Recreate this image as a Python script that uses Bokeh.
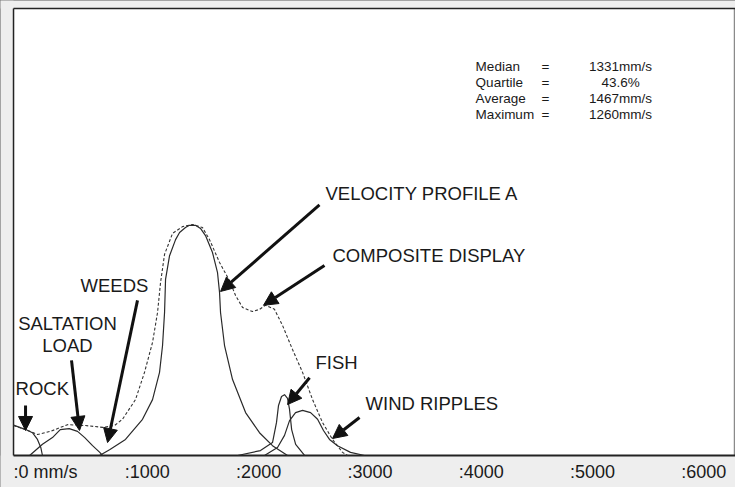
from bokeh.plotting import figure
from bokeh.models import Range1d, Arrow, NormalHead, ColumnDataSource, BoxAnnotation
from bokeh.core.properties import value
from bokeh.embed import file_html
from bokeh.resources import INLINE

FONT = "Liberation Sans"

# ---- data (velocity in mm/s, relative amplitude in %) ----
rock_x = [0, 110, 170, 215, 245, 260]
rock_y = [6.8, 5.8, 5.1, 3.6, 1.8, 0]

salt_x = [145, 260, 350, 420, 500, 575, 640, 710, 775, 800]
salt_y = [0, 2.5, 4.0, 5.8, 6.0, 5.4, 4.0, 2.2, 0.7, 0]

profile_x = [773, 863, 1006, 1159, 1249, 1312, 1339, 1357, 1366, 1402, 1456, 1492, 1545,
             1581, 1635, 1680, 1725, 1788, 1833, 1851, 1860, 1896, 1968, 2085, 2210, 2327, 2462]
profile_y = [0, 1.3, 3.6, 8.1, 12.5, 18.6, 24.6, 32.0, 39.4, 44.7, 48.3, 49.9, 51.0,
             51.5, 51.5, 50.8, 49.2, 45.4, 40.9, 36.5, 32.0, 24.6, 17.0, 9.6, 5.1, 2.2, 0]

fish_x = [2013, 2219, 2327, 2363, 2381, 2408, 2435, 2462, 2480, 2499, 2535, 2615]
fish_y = [0, 1.1, 2.9, 7.4, 11.2, 13.2, 13.6, 12.8, 10.3, 5.8, 2.5, 0]

wind_x = [2255, 2372, 2435, 2480, 2534, 2597, 2669, 2732, 2785, 2839, 2911, 3028, 3154]
wind_y = [0, 1.8, 4.5, 7.8, 9.6, 10.1, 9.6, 8.1, 5.6, 3.6, 2.2, 0.7, 0]

comp_x = [0, 108, 216, 332, 485, 647, 800, 907, 979, 1096, 1177, 1249, 1294, 1321, 1357,
          1429, 1518, 1608, 1698, 1761, 1851, 1941, 1995, 2058, 2147, 2210, 2264, 2345,
          2417, 2507, 2597, 2687, 2776, 2866, 2956, 3001]
comp_y = [6.7, 5.8, 4.7, 5.4, 6.9, 6.7, 6.3, 6.7, 8.1, 12.5, 18.6, 25.3, 32.0, 38.7, 45.0,
          49.7, 51.2, 51.7, 51.0, 48.3, 43.2, 39.1, 35.8, 33.1, 32.2, 32.7, 33.6, 32.7,
          29.1, 23.7, 18.6, 12.5, 7.4, 3.6, 0.7, 0]

tick_values = [0, 1000, 2000, 3000, 4000, 5000, 6000]
tick_labels = [":0 mm/s", ":1000", ":2000", ":3000", ":4000", ":5000", ":6000"]
tick_label_y = -3.8

# annotation labels: text, x, y, align
label_text = ["VELOCITY PROFILE A", "COMPOSITE DISPLAY", "WEEDS", "SALTATION", "LOAD",
              "ROCK", "FISH", "WIND RIPPLES"]
label_x = [2803, 2866, 602, 485, 485, 18, 2713, 3163]
label_y = [58.6, 44.7, 38.0, 29.5, 24.6, 15.0, 20.8, 11.6]
label_align = ["left", "left", "left", "center", "center", "left", "left", "left"]

# arrows: start -> tip
arrow_x0 = [2749, 2794, 1114, 521, 108, 2660, 3109]
arrow_y0 = [56.1, 42.5, 34.7, 21.3, 11.2, 17.4, 8.5]
arrow_x1 = [1860, 2246, 845, 593, 108, 2462, 2866]
arrow_y1 = [36.7, 33.6, 2.9, 5.6, 5.6, 11.4, 3.8]

stat_names = ["Median", "Quartile", "Average", "Maximum"]
stat_values = ["1331mm/s", "43.6%", "1467mm/s", "1260mm/s"]
stat_y = [87.0, 83.4, 79.9, 76.3]
stat_name_x = 4152
stat_eq_x = 4780
stat_val_x = 5454

X_MIN, X_MAX = -117, 6487
Y_MIN, Y_MAX = -7.16, 101.8
Y_TOP = 100

# ---- figure ----
p = figure(width=735, height=487, output_backend="svg", toolbar_location=None,
           x_axis_type=None, y_axis_type=None,
           x_range=Range1d(X_MIN, X_MAX), y_range=Range1d(Y_MIN, Y_MAX),
           min_border_left=0, min_border_right=0, min_border_top=0, min_border_bottom=0)
p.grid.visible = False
p.background_fill_color = "white"
p.border_fill_color = "#eeeeee"
p.outline_line_color = "#8a8a8a"
p.outline_line_width = 1.5

band = "#eeeeee"
for kw in (dict(right=0), dict(bottom=Y_TOP), dict(top=0)):
    p.add_layout(BoxAnnotation(fill_color=band, fill_alpha=1, line_color=None,
                               level="underlay", **kw))

# frame lines
p.segment(x0=[0, 0, 0], y0=[0, 0, Y_TOP], x1=[X_MAX, 0, X_MAX], y1=[0, Y_TOP, Y_TOP],
          line_color="#222222", line_width=[2, 1.5, 1.5])

curve_color = "#2a2a2a"
for xs, ys in [(rock_x, rock_y), (salt_x, salt_y), (profile_x, profile_y),
               (fish_x, fish_y), (wind_x, wind_y)]:
    p.line(xs, ys, line_color=curve_color, line_width=1.2, line_join="round")

p.line(comp_x, comp_y, line_color="#333333", line_width=1.1, line_dash="3 2")

# annotation labels
src = ColumnDataSource(dict(x=label_x, y=label_y, text=label_text, align=label_align))
p.text(x="x", y="y", text="text", source=src, text_align="align",
       text_baseline="middle", text_font=value(FONT), text_font_size="18.5px",
       text_color="#1a1a1a")

for x0, y0, x1, y1 in zip(arrow_x0, arrow_y0, arrow_x1, arrow_y1):
    p.add_layout(Arrow(x_start=x0, y_start=y0, x_end=x1, y_end=y1,
                       line_width=3, line_color="#111111",
                       end=NormalHead(size=14, fill_color="#111111", line_color="#111111")))

# stats block
stat_src = ColumnDataSource(dict(y=stat_y, name=stat_names, val=stat_values,
                                 eq=["="] * len(stat_names)))
for xpos, col, al in ((stat_name_x, "name", "left"), (stat_eq_x, "eq", "center"),
                      (stat_val_x, "val", "center")):
    p.text(x=xpos, y="y", text=col, source=stat_src, text_align=al,
           text_baseline="middle", text_font=value(FONT), text_font_size="13.5px",
           text_color="#1a1a1a")

# tick labels below the axis line
tick_src = ColumnDataSource(dict(x=tick_values, text=tick_labels,
                                 y=[tick_label_y] * len(tick_values)))
p.text(x="x", y="y", text="text", source=tick_src, text_align="left",
       text_baseline="middle", text_font=value(FONT), text_font_size="18px",
       text_color="#1a1a1a")

open("out.html", "w").write(file_html(p, INLINE))
